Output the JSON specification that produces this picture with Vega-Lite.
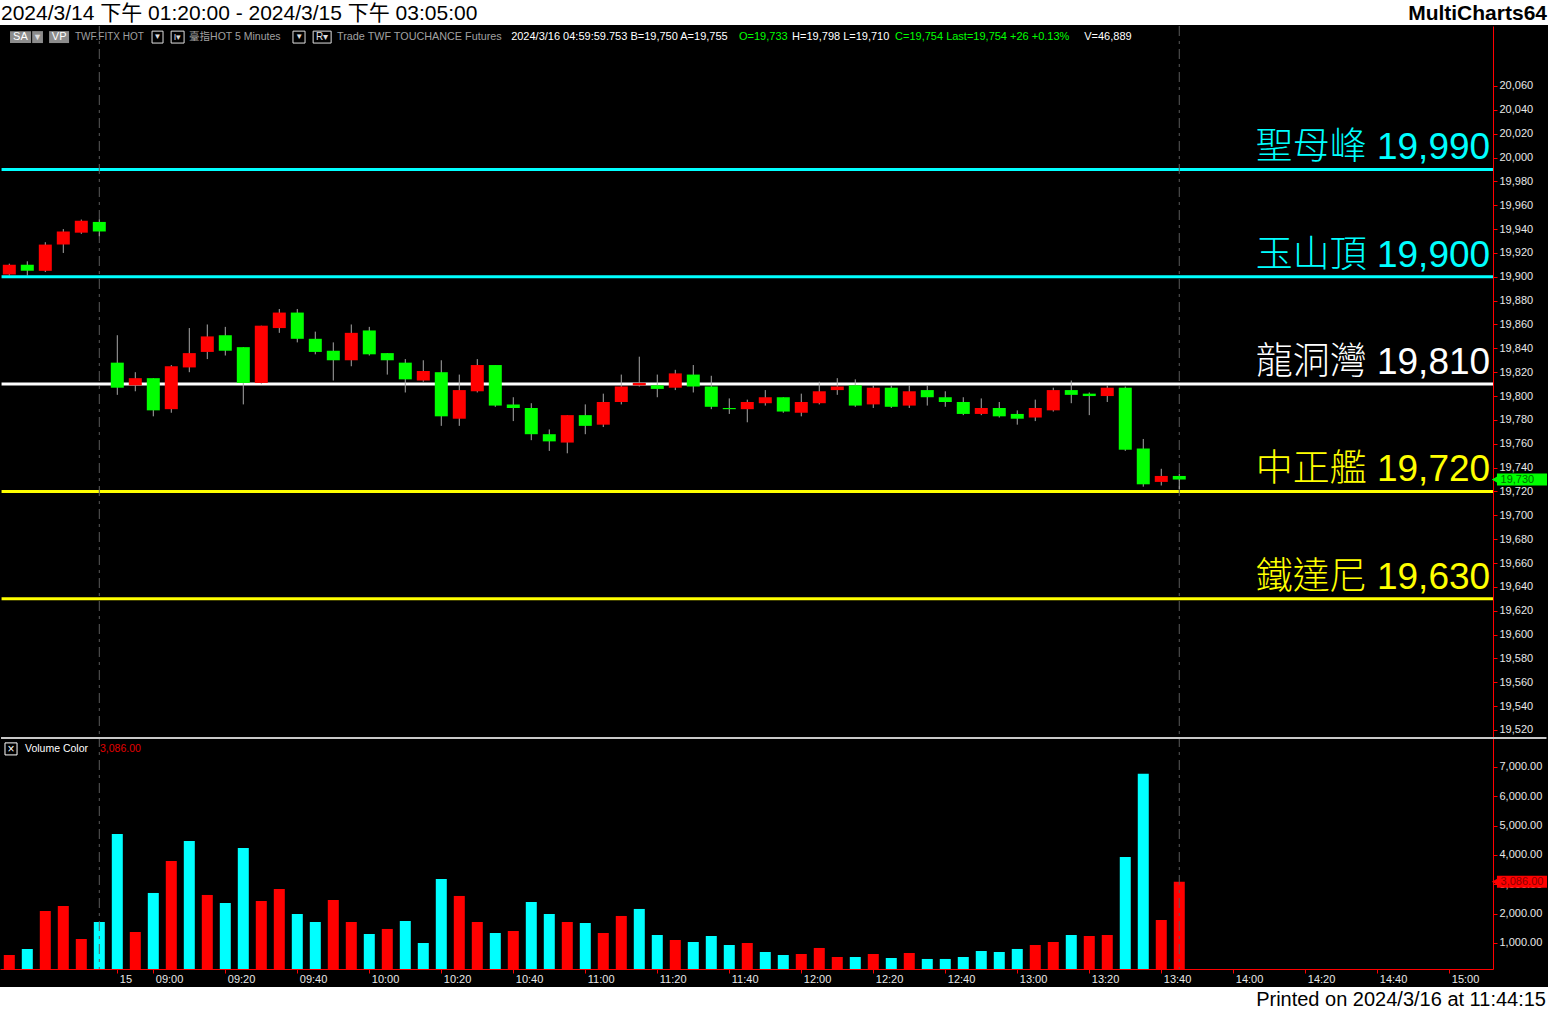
{
"$schema": "https://vega.github.io/schema/vega-lite/v6.json",
"background": "#000000",
"padding": 0,
"spacing": 0,
"config": {"view": {"stroke": null}, "text": {"font": "Liberation Sans"}, "axis": {"labelOverlap": false, "labelSeparation": 0}},
"resolve": {"scale": {"x": "independent", "y": "independent", "color": "independent"}},
"datasets": {
"candles": [
{"i":0,"o":19902,"h":19911,"l":19901,"c":19910,"v":590,"vc":"up"},
{"i":1,"o":19910,"h":19913,"l":19901,"c":19905,"v":795,"vc":"down"},
{"i":2,"o":19905,"h":19929,"l":19904,"c":19927,"v":2090,"vc":"up"},
{"i":3,"o":19927,"h":19940,"l":19920,"c":19938,"v":2260,"vc":"up"},
{"i":4,"o":19937,"h":19948,"l":19936,"c":19947,"v":1135,"vc":"up"},
{"i":5,"o":19946,"h":19948,"l":19934,"c":19938,"v":1715,"vc":"down"},
{"i":6,"o":19828,"h":19851,"l":19801,"c":19807,"v":4716,"vc":"down"},
{"i":7,"o":19809,"h":19820,"l":19804,"c":19815,"v":1374,"vc":"up"},
{"i":8,"o":19815,"h":19815,"l":19783,"c":19788,"v":2704,"vc":"down"},
{"i":9,"o":19789,"h":19826,"l":19786,"c":19825,"v":3795,"vc":"up"},
{"i":10,"o":19824,"h":19857,"l":19820,"c":19836,"v":4477,"vc":"down"},
{"i":11,"o":19837,"h":19860,"l":19831,"c":19850,"v":2636,"vc":"up"},
{"i":12,"o":19851,"h":19858,"l":19834,"c":19838,"v":2363,"vc":"down"},
{"i":13,"o":19841,"h":19841,"l":19793,"c":19811,"v":4239,"vc":"down"},
{"i":14,"o":19811,"h":19859,"l":19810,"c":19859,"v":2431,"vc":"up"},
{"i":15,"o":19857,"h":19873,"l":19853,"c":19870,"v":2840,"vc":"up"},
{"i":16,"o":19870,"h":19873,"l":19845,"c":19848,"v":1988,"vc":"down"},
{"i":17,"o":19848,"h":19854,"l":19835,"c":19837,"v":1715,"vc":"down"},
{"i":18,"o":19838,"h":19845,"l":19813,"c":19830,"v":2465,"vc":"up"},
{"i":19,"o":19830,"h":19860,"l":19825,"c":19853,"v":1715,"vc":"up"},
{"i":20,"o":19855,"h":19858,"l":19834,"c":19835,"v":1306,"vc":"down"},
{"i":21,"o":19836,"h":19836,"l":19818,"c":19830,"v":1477,"vc":"up"},
{"i":22,"o":19828,"h":19831,"l":19803,"c":19814,"v":1749,"vc":"down"},
{"i":23,"o":19813,"h":19830,"l":19812,"c":19821,"v":999,"vc":"down"},
{"i":24,"o":19820,"h":19830,"l":19775,"c":19783,"v":3181,"vc":"down"},
{"i":25,"o":19781,"h":19818,"l":19775,"c":19805,"v":2602,"vc":"up"},
{"i":26,"o":19804,"h":19831,"l":19803,"c":19826,"v":1715,"vc":"up"},
{"i":27,"o":19826,"h":19826,"l":19791,"c":19792,"v":1340,"vc":"down"},
{"i":28,"o":19793,"h":19799,"l":19779,"c":19790,"v":1408,"vc":"up"},
{"i":29,"o":19790,"h":19794,"l":19763,"c":19768,"v":2397,"vc":"down"},
{"i":30,"o":19768,"h":19772,"l":19754,"c":19762,"v":1988,"vc":"down"},
{"i":31,"o":19761,"h":19784,"l":19752,"c":19784,"v":1715,"vc":"up"},
{"i":32,"o":19784,"h":19793,"l":19768,"c":19775,"v":1681,"vc":"down"},
{"i":33,"o":19776,"h":19802,"l":19774,"c":19795,"v":1340,"vc":"up"},
{"i":34,"o":19795,"h":19818,"l":19793,"c":19808,"v":1920,"vc":"up"},
{"i":35,"o":19809,"h":19833,"l":19808,"c":19811,"v":2159,"vc":"down"},
{"i":36,"o":19809,"h":19818,"l":19799,"c":19806,"v":1272,"vc":"down"},
{"i":37,"o":19807,"h":19822,"l":19805,"c":19819,"v":1101,"vc":"up"},
{"i":38,"o":19818,"h":19826,"l":19803,"c":19808,"v":1033,"vc":"down"},
{"i":39,"o":19808,"h":19817,"l":19789,"c":19791,"v":1238,"vc":"down"},
{"i":40,"o":19790,"h":19798,"l":19785,"c":19789,"v":931,"vc":"down"},
{"i":41,"o":19789,"h":19797,"l":19778,"c":19795,"v":999,"vc":"up"},
{"i":42,"o":19794,"h":19805,"l":19792,"c":19799,"v":692,"vc":"down"},
{"i":43,"o":19799,"h":19799,"l":19786,"c":19787,"v":590,"vc":"down"},
{"i":44,"o":19786,"h":19802,"l":19783,"c":19795,"v":624,"vc":"up"},
{"i":45,"o":19794,"h":19812,"l":19793,"c":19804,"v":829,"vc":"up"},
{"i":46,"o":19805,"h":19815,"l":19801,"c":19808,"v":522,"vc":"up"},
{"i":47,"o":19809,"h":19814,"l":19791,"c":19792,"v":522,"vc":"down"},
{"i":48,"o":19793,"h":19809,"l":19790,"c":19807,"v":624,"vc":"up"},
{"i":49,"o":19807,"h":19809,"l":19790,"c":19791,"v":488,"vc":"down"},
{"i":50,"o":19792,"h":19809,"l":19790,"c":19804,"v":658,"vc":"up"},
{"i":51,"o":19805,"h":19809,"l":19792,"c":19799,"v":454,"vc":"down"},
{"i":52,"o":19799,"h":19804,"l":19791,"c":19795,"v":454,"vc":"down"},
{"i":53,"o":19795,"h":19799,"l":19784,"c":19785,"v":522,"vc":"down"},
{"i":54,"o":19785,"h":19798,"l":19784,"c":19790,"v":726,"vc":"down"},
{"i":55,"o":19790,"h":19795,"l":19782,"c":19783,"v":692,"vc":"down"},
{"i":56,"o":19785,"h":19788,"l":19776,"c":19781,"v":795,"vc":"down"},
{"i":57,"o":19782,"h":19797,"l":19779,"c":19790,"v":931,"vc":"up"},
{"i":58,"o":19788,"h":19807,"l":19787,"c":19805,"v":1033,"vc":"up"},
{"i":59,"o":19805,"h":19813,"l":19794,"c":19801,"v":1272,"vc":"down"},
{"i":60,"o":19802,"h":19803,"l":19784,"c":19800,"v":1238,"vc":"up"},
{"i":61,"o":19800,"h":19809,"l":19795,"c":19807,"v":1272,"vc":"up"},
{"i":62,"o":19807,"h":19808,"l":19754,"c":19755,"v":3932,"vc":"down"},
{"i":63,"o":19756,"h":19764,"l":19724,"c":19726,"v":6769,"vc":"down"},
{"i":64,"o":19728,"h":19739,"l":19725,"c":19733,"v":1783,"vc":"up"},
{"i":65,"o":19733,"h":19735,"l":19722,"c":19730,"v":3086,"vc":"up"}
],
"levels": [
{"name":"聖母峰 19,990","p":19990,"k":"cyan"},
{"name":"玉山頂 19,900","p":19900,"k":"cyan"},
{"name":"龍洞灣 19,810","p":19810,"k":"white"},
{"name":"中正艦 19,720","p":19720,"k":"yellow"},
{"name":"鐵達尼 19,630","p":19630,"k":"yellow"}
],
"markers": [{"i":5},{"i":65}],
"one": [{}]
},
"vconcat": [
{
"width": 1548, "height": 25,
"view": {"fill": "#FFFFFF", "stroke": null},
"data": {"name": "one"},
"layer": [
{"mark": {"type": "text", "align": "left", "baseline": "middle", "fontSize": 21, "font": "Liberation Sans, Noto Sans CJK TC", "color": "#000000", "dx": 1, "dy": 1},
 "encoding": {"x": {"datum": 0, "type": "quantitative", "scale": {"domain": [0, 1], "nice": false, "zero": false}, "axis": null}, "text": {"value": "2024/3/14 下午 01:20:00 - 2024/3/15 下午 03:05:00"}}},
{"mark": {"type": "text", "align": "right", "baseline": "middle", "fontSize": 21, "fontWeight": "bold", "font": "Liberation Sans", "color": "#000000", "dx": -1, "dy": 1},
 "encoding": {"x": {"datum": 1, "type": "quantitative"}, "text": {"value": "MultiCharts64"}}}
]
},
{
"spacing": 0,
"bounds": "flush",
"resolve": {"scale": {"x": "independent", "y": "independent", "color": "independent"}},
"vconcat": [
{
"width": 1493, "height": 711,
"view": {"fill": "#000000", "stroke": null},
"layer": [
{"data": {"name": "levels"}, "mark": {"type": "rule", "strokeWidth": 3},
 "encoding": {
  "x": {"datum": -0.43, "type": "quantitative", "scale": {"domain": [-0.517, 82.43], "nice": false, "zero": false, "padding": 0}, "axis": null},
  "x2": {"datum": 82.43},
  "y": {"field": "p", "type": "quantitative", "scale": {"domain": [19514.1, 20110.3], "nice": false, "zero": false},
   "axis": {"orient": "right", "title": null, "grid": false, "tickCount": 100, "values": [19520,19540,19560,19580,19600,19620,19640,19660,19680,19700,19720,19740,19760,19780,19800,19820,19840,19860,19880,19900,19920,19940,19960,19980,20000,20020,20040,20060], "format": ",d", "domainColor": "#FF0000", "tickColor": "#FF0000", "tickSize": 4, "labelColor": "#E8E8E8", "labelFont": "Liberation Sans", "labelFontSize": 11, "labelPadding": 2, "labelOverlap": false, "labelSeparation": 0, "labelBound": false, "labelFlush": false}},
  "color": {"field": "k", "type": "nominal", "scale": {"domain": ["cyan", "white", "yellow"], "range": ["#00FFFF", "#FFFFFF", "#FFFF00"]}, "legend": null}
 }},
{"data": {"name": "levels"}, "mark": {"type": "text", "align": "right", "baseline": "alphabetic", "dy": -10, "fontSize": 37, "fontWeight": 300, "font": "Liberation Sans, Noto Sans CJK TC"},
 "encoding": {"x": {"datum": 82.27, "type": "quantitative"}, "y": {"field": "p", "type": "quantitative"}, "text": {"field": "name"}, "color": {"field": "k", "type": "nominal", "legend": null}}},
{"data": {"name": "markers"}, "mark": {"type": "rule", "color": "#5A5A5A", "strokeWidth": 1, "strokeDash": [10, 5, 3, 5]},
 "encoding": {"x": {"field": "i", "type": "quantitative"}}},
{"data": {"name": "candles"}, "mark": {"type": "rule", "color": "#A8A8A8", "strokeWidth": 1},
 "encoding": {"x": {"field": "i", "type": "quantitative"}, "y": {"field": "l", "type": "quantitative"}, "y2": {"field": "h"}}},
{"data": {"name": "candles"}, "mark": {"type": "bar", "size": 13},
 "encoding": {"x": {"field": "i", "type": "quantitative"}, "y": {"field": "o", "type": "quantitative"}, "y2": {"field": "c"},
  "color": {"condition": {"test": "datum.c >= datum.o", "value": "#FF0000"}, "value": "#00FF00"}}},
{"data": {"name": "one"}, "mark": {"type": "rect", "color": "#8C8C8C"},
 "encoding": {"x": {"datum": 0.04, "type": "quantitative"}, "x2": {"datum": 1.21}, "y": {"datum": 20106, "type": "quantitative"}, "y2": {"datum": 20096}}},
{"data": {"name": "one"}, "mark": {"type": "rect", "color": "#8C8C8C"},
 "encoding": {"x": {"datum": 1.27, "type": "quantitative"}, "x2": {"datum": 1.87}, "y": {"datum": 20106, "type": "quantitative"}, "y2": {"datum": 20096}}},
{"data": {"name": "one"}, "mark": {"type": "rect", "color": "#8C8C8C"},
 "encoding": {"x": {"datum": 2.21, "type": "quantitative"}, "x2": {"datum": 3.32}, "y": {"datum": 20106, "type": "quantitative"}, "y2": {"datum": 20096}}},
{"data": {"name": "one"}, "mark": {"type": "rect", "fill": "#000000", "stroke": "#E0E0E0", "strokeWidth": 1},
 "encoding": {"x": {"datum": 7.93, "type": "quantitative"}, "x2": {"datum": 8.54}, "y": {"datum": 20106, "type": "quantitative"}, "y2": {"datum": 20096}}},
{"data": {"name": "one"}, "mark": {"type": "rect", "fill": "#000000", "stroke": "#E0E0E0", "strokeWidth": 1},
 "encoding": {"x": {"datum": 8.99, "type": "quantitative"}, "x2": {"datum": 9.71}, "y": {"datum": 20106, "type": "quantitative"}, "y2": {"datum": 20096}}},
{"data": {"name": "one"}, "mark": {"type": "rect", "fill": "#000000", "stroke": "#E0E0E0", "strokeWidth": 1},
 "encoding": {"x": {"datum": 15.76, "type": "quantitative"}, "x2": {"datum": 16.43}, "y": {"datum": 20106, "type": "quantitative"}, "y2": {"datum": 20096}}},
{"data": {"name": "one"}, "mark": {"type": "rect", "fill": "#000000", "stroke": "#E0E0E0", "strokeWidth": 1},
 "encoding": {"x": {"datum": 16.88, "type": "quantitative"}, "x2": {"datum": 17.88}, "y": {"datum": 20106, "type": "quantitative"}, "y2": {"datum": 20096}}},
{"data": {"name": "one"}, "mark": {"type": "text", "align": "center", "baseline": "middle", "fontSize": 9, "color": "#E0E0E0"},
 "encoding": {"x": {"datum": 1.57, "type": "quantitative"}, "y": {"datum": 20101, "type": "quantitative"}, "text": {"value": "▼"}}},
{"data": {"name": "one"}, "mark": {"type": "text", "align": "center", "baseline": "middle", "fontSize": 8, "color": "#E0E0E0"},
 "encoding": {"x": {"datum": 8.23, "type": "quantitative"}, "y": {"datum": 20101, "type": "quantitative"}, "text": {"value": "▼"}}},
{"data": {"name": "one"}, "mark": {"type": "text", "align": "center", "baseline": "middle", "fontSize": 9, "color": "#E0E0E0"},
 "encoding": {"x": {"datum": 9.35, "type": "quantitative"}, "y": {"datum": 20101, "type": "quantitative"}, "text": {"value": "I▾"}}},
{"data": {"name": "one"}, "mark": {"type": "text", "align": "center", "baseline": "middle", "fontSize": 8, "color": "#E0E0E0"},
 "encoding": {"x": {"datum": 16.1, "type": "quantitative"}, "y": {"datum": 20101, "type": "quantitative"}, "text": {"value": "▼"}}},
{"data": {"name": "one"}, "mark": {"type": "text", "align": "center", "baseline": "middle", "fontSize": 10, "color": "#E0E0E0"},
 "encoding": {"x": {"datum": 17.38, "type": "quantitative"}, "y": {"datum": 20101, "type": "quantitative"}, "text": {"value": "R▾"}}},
{"data": {"name": "one"}, "mark": {"type": "text", "align": "center", "baseline": "middle", "fontSize": 11, "color": "#FFFFFF"},
 "encoding": {"x": {"datum": 0.62, "type": "quantitative"}, "y": {"datum": 20101, "type": "quantitative"}, "text": {"value": "SA"}}},
{"data": {"name": "one"}, "mark": {"type": "text", "align": "center", "baseline": "middle", "fontSize": 11, "color": "#FFFFFF"},
 "encoding": {"x": {"datum": 2.77, "type": "quantitative"}, "y": {"datum": 20101, "type": "quantitative"}, "text": {"value": "VP"}}},
{"data": {"name": "one"}, "mark": {"type": "text", "align": "left", "baseline": "middle", "fontSize": 10, "color": "#A0A0A0"},
 "encoding": {"x": {"datum": 3.65, "type": "quantitative"}, "y": {"datum": 20101, "type": "quantitative"}, "text": {"value": "TWF.FITX HOT"}}},
{"data": {"name": "one"}, "mark": {"type": "text", "align": "left", "baseline": "middle", "fontSize": 10.5, "color": "#A0A0A0", "font": "Liberation Sans, Noto Sans CJK TC"},
 "encoding": {"x": {"datum": 9.99, "type": "quantitative"}, "y": {"datum": 20101, "type": "quantitative"}, "text": {"value": "臺指HOT  5 Minutes"}}},
{"data": {"name": "one"}, "mark": {"type": "text", "align": "left", "baseline": "middle", "fontSize": 10.8, "color": "#A0A0A0"},
 "encoding": {"x": {"datum": 18.21, "type": "quantitative"}, "y": {"datum": 20101, "type": "quantitative"}, "text": {"value": "Trade  TWF  TOUCHANCE  Futures"}}},
{"data": {"name": "one"}, "mark": {"type": "text", "align": "left", "baseline": "middle", "fontSize": 11, "color": "#FFFFFF"},
 "encoding": {"x": {"datum": 27.88, "type": "quantitative"}, "y": {"datum": 20101, "type": "quantitative"}, "text": {"value": "2024/3/16  04:59:59.753  B=19,750  A=19,755"}}},
{"data": {"name": "one"}, "mark": {"type": "text", "align": "left", "baseline": "middle", "fontSize": 11, "color": "#00FF00"},
 "encoding": {"x": {"datum": 40.54, "type": "quantitative"}, "y": {"datum": 20101, "type": "quantitative"}, "text": {"value": "O=19,733"}}},
{"data": {"name": "one"}, "mark": {"type": "text", "align": "left", "baseline": "middle", "fontSize": 11, "color": "#FFFFFF"},
 "encoding": {"x": {"datum": 43.49, "type": "quantitative"}, "y": {"datum": 20101, "type": "quantitative"}, "text": {"value": "H=19,798  L=19,710"}}},
{"data": {"name": "one"}, "mark": {"type": "text", "align": "left", "baseline": "middle", "fontSize": 11, "color": "#00FF00"},
 "encoding": {"x": {"datum": 49.21, "type": "quantitative"}, "y": {"datum": 20101, "type": "quantitative"}, "text": {"value": "C=19,754  Last=19,754  +26   +0.13%"}}},
{"data": {"name": "one"}, "mark": {"type": "text", "align": "left", "baseline": "middle", "fontSize": 11, "color": "#FFFFFF"},
 "encoding": {"x": {"datum": 59.72, "type": "quantitative"}, "y": {"datum": 20101, "type": "quantitative"}, "text": {"value": "V=46,889"}}},
{"data": {"name": "one"}, "mark": {"type": "rect", "color": "#00FF00"},
 "encoding": {"x": {"datum": 82.65, "type": "quantitative"}, "x2": {"datum": 85.43}, "y": {"datum": 19735, "type": "quantitative"}, "y2": {"datum": 19725}}},
{"data": {"name": "one"}, "mark": {"type": "point", "shape": "triangle-left", "filled": true, "size": 60, "color": "#00FF00", "opacity": 1},
 "encoding": {"x": {"datum": 82.55, "type": "quantitative"}, "y": {"datum": 19730, "type": "quantitative"}}},
{"data": {"name": "one"}, "mark": {"type": "text", "align": "left", "baseline": "middle", "fontSize": 11, "color": "#006E00"},
 "encoding": {"x": {"datum": 82.85, "type": "quantitative"}, "y": {"datum": 19730, "type": "quantitative"}, "text": {"value": "19,730"}}}
]
},
{
"width": 1493, "height": 232,
"view": {"fill": "#000000", "stroke": null},
"layer": [
{"data": {"name": "candles"}, "mark": {"type": "bar", "size": 11, "clip": true},
 "encoding": {
  "x": {"field": "i", "type": "quantitative", "scale": {"domain": [-0.517, 82.43], "nice": false, "zero": false, "padding": 0},
   "axis": {"orient": "bottom", "title": null, "grid": false, "tickCount": 100, "values": [6,8,12,16,20,24,28,32,36,40,44,48,52,56,60,64,68,72,76,80],
    "labelExpr": "datum.value == 6 ? '15' : timeFormat(datetime(2024, 2, 15, 8, 45 + (datum.value - 5) * 5), '%H:%M')",
    "domainColor": "#FF0000", "tickColor": "#FF0000", "tickSize": 4, "labelColor": "#E8E8E8", "labelFont": "Liberation Sans", "labelFontSize": 11,
    "labelAlign": "left", "labelOffset": 2, "labelPadding": 0, "labelOverlap": false, "labelFlush": false, "labelBound": false, "minExtent": 18, "maxExtent": 18, "zindex": 1}},
  "y": {"field": "v", "type": "quantitative", "scale": {"domain": [112, 8021], "nice": false, "zero": false},
   "axis": {"orient": "right", "title": null, "grid": false, "tickCount": 100, "values": [1000,2000,3000,4000,5000,6000,7000], "format": ",.2f", "domainColor": "#FF0000", "tickColor": "#FF0000", "tickSize": 4, "labelColor": "#E8E8E8", "labelFont": "Liberation Sans", "labelFontSize": 11, "labelPadding": 2, "labelOverlap": false, "labelSeparation": 0, "labelBound": false, "labelFlush": false}},
  "color": {"field": "vc", "type": "nominal", "scale": {"domain": ["up", "down"], "range": ["#FF0000", "#00FFFF"]}, "legend": null}
 }},
{"data": {"name": "markers"}, "mark": {"type": "rule", "color": "#5A5A5A", "strokeWidth": 1, "strokeDash": [10, 5, 3, 5]},
 "encoding": {"x": {"field": "i", "type": "quantitative"}}},
{"data": {"name": "one"}, "mark": {"type": "rule", "color": "#C8C8C8", "strokeWidth": 2},
 "encoding": {"x": {"datum": -0.46, "type": "quantitative"}, "x2": {"datum": 85.4}, "y": {"datum": 7990, "type": "quantitative"}}},
{"data": {"name": "one"}, "mark": {"type": "rect", "fill": "#000000", "stroke": "#FFFFFF", "strokeWidth": 1},
 "encoding": {"x": {"datum": -0.24, "type": "quantitative"}, "x2": {"datum": 0.43}, "y": {"datum": 7820, "type": "quantitative"}, "y2": {"datum": 7410}}},
{"data": {"name": "one"}, "mark": {"type": "text", "align": "center", "baseline": "middle", "fontSize": 12, "color": "#FFFFFF"},
 "encoding": {"x": {"datum": 0.095, "type": "quantitative"}, "y": {"datum": 7615, "type": "quantitative"}, "text": {"value": "×"}}},
{"data": {"name": "one"}, "mark": {"type": "text", "align": "left", "baseline": "middle", "fontSize": 10.5, "color": "#FFFFFF"},
 "encoding": {"x": {"datum": 0.87, "type": "quantitative"}, "y": {"datum": 7615, "type": "quantitative"}, "text": {"value": "Volume Color"}}},
{"data": {"name": "one"}, "mark": {"type": "text", "align": "left", "baseline": "middle", "fontSize": 10.5, "color": "#E00000"},
 "encoding": {"x": {"datum": 5.04, "type": "quantitative"}, "y": {"datum": 7615, "type": "quantitative"}, "text": {"value": "3,086.00"}}},
{"data": {"name": "one"}, "mark": {"type": "rect", "color": "#FF0000"},
 "encoding": {"x": {"datum": 82.65, "type": "quantitative"}, "x2": {"datum": 85.43}, "y": {"datum": 3290, "type": "quantitative"}, "y2": {"datum": 2880}}},
{"data": {"name": "one"}, "mark": {"type": "point", "shape": "triangle-left", "filled": true, "size": 60, "color": "#FF0000", "opacity": 1},
 "encoding": {"x": {"datum": 82.55, "type": "quantitative"}, "y": {"datum": 3086, "type": "quantitative"}}},
{"data": {"name": "one"}, "mark": {"type": "text", "align": "left", "baseline": "middle", "fontSize": 11, "color": "#8A0000"},
 "encoding": {"x": {"datum": 82.85, "type": "quantitative"}, "y": {"datum": 3086, "type": "quantitative"}, "text": {"value": "3,086.00"}}}
]
}
]
},
{
"width": 1548, "height": 23,
"view": {"fill": "#FFFFFF", "stroke": null},
"data": {"name": "one"},
"layer": [
{"mark": {"type": "text", "align": "right", "baseline": "middle", "fontSize": 20, "font": "Liberation Sans", "color": "#000000", "dx": -2, "dy": 1},
 "encoding": {"x": {"datum": 1, "type": "quantitative", "scale": {"domain": [0, 1], "nice": false, "zero": false}, "axis": null}, "text": {"value": "Printed on 2024/3/16 at 11:44:15"}}}
]
}
]
}
